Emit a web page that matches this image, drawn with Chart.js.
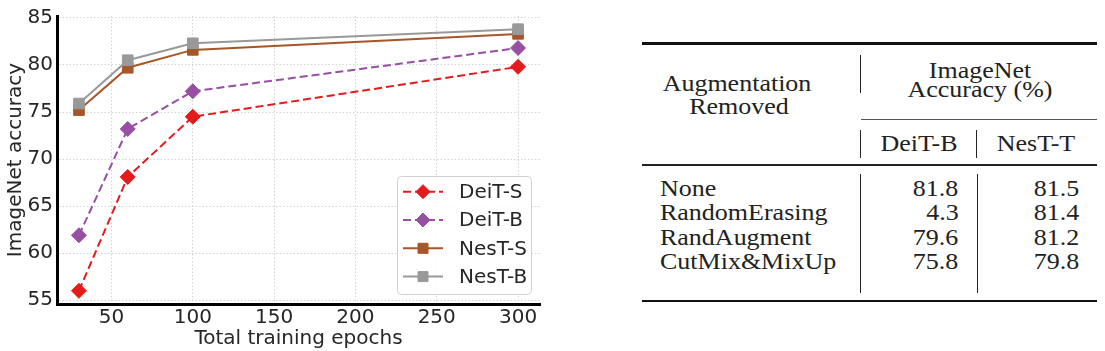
<!DOCTYPE html>
<html>
<head>
<meta charset="utf-8">
<script src="https://cdn.jsdelivr.net/npm/chart.js@4/dist/chart.umd.min.js"></script>
<style>
  html, body { margin: 0; padding: 0; background: #fff; }
  #wrap { position: relative; width: 1105px; height: 351px; overflow: hidden; background: #fff; }
  #chartBox { position: absolute; left: 0; top: 0; width: 560px; height: 351px; }
  .t { position: absolute; font-family: "Liberation Serif", "Times New Roman", serif; font-size: 23px; line-height: 1; color: #222; white-space: nowrap; }
  .c { transform: translate(-50%, -50%) scaleX(1.13); }
  .l { transform-origin: left center; transform: translateY(-50%) scaleX(1.13); }
  .r { transform-origin: right center; transform: translateY(-50%) scaleX(1.13); }
  .rule { position: absolute; background: #111; }
</style>
</head>
<body>
<div id="wrap">
  <div id="chartBox"><canvas id="c" width="560" height="351"></canvas></div>
  <div id="table"></div>
</div>
<script>
// ---- chart data ----
const epochs = [30, 60, 100, 300];
const deitS = [56.0, 68.1, 74.5, 79.8];
const deitB = [61.9, 73.2, 77.2, 81.8];
const nestS = [75.2, 79.7, 81.6, 83.3];
const nestB = [75.9, 80.5, 82.3, 83.8];
const seriesNames = ['DeiT-S', 'DeiT-B', 'NesT-S', 'NesT-B'];
const xTicks = [50, 100, 150, 200, 250, 300];
const yTicks = [55, 60, 65, 70, 75, 80, 85];
const xTitle = 'Total training epochs';
const yTitle = 'ImageNet accuracy';

// ---- table data ----
const augmentations = ['None', 'RandomErasing', 'RandAugment', 'CutMix&MixUp'];
const deitBAcc = ['81.8', '4.3', '79.6', '75.8'];
const nestTAcc = ['81.5', '81.4', '81.2', '79.8'];
const tableHead = ['Augmentation', 'Removed', 'ImageNet', 'Accuracy (%)', 'DeiT-B', 'NesT-T'];

const colors = ['#e41a1c', '#984ea3', '#a65628', '#999999'];
const styles = ['diamond', 'diamond', 'square', 'square'];
const dashed = [true, true, false, false];
const allSeries = [deitS, deitB, nestS, nestB];
const FONT = 'DejaVu Sans';
const FS = 20;

const datasets = allSeries.map((vals, i) => ({
  label: seriesNames[i],
  data: epochs.map((e, j) => ({ x: e, y: vals[j] })),
  borderColor: colors[i],
  backgroundColor: colors[i],
  borderWidth: 2,
  borderDash: dashed[i] ? [8, 4] : [],
  pointStyle: styles[i] === 'diamond' ? 'rectRot' : 'rect',
  pointRadius: 7.5,
  pointBorderWidth: 1,
  tension: 0,
  order: 4 - i
}));

function drawMarker(ctx, style, x, y, color) {
  ctx.save();
  ctx.fillStyle = color; ctx.strokeStyle = color; ctx.lineWidth = 1;
  ctx.beginPath();
  if (style === 'diamond') {
    const r = 7;
    ctx.moveTo(x - r, y); ctx.lineTo(x, y - r); ctx.lineTo(x + r, y); ctx.lineTo(x, y + r);
    ctx.closePath();
  } else {
    const h = 5;
    ctx.rect(x - h, y - h, 2 * h, 2 * h);
  }
  ctx.fill(); ctx.stroke();
  ctx.restore();
}

const legendPlugin = {
  id: 'boxLegend',
  afterDraw(chart) {
    const ctx = chart.ctx;
    const bx = 397, by = 176, bw = 134, bh = 118, rad = 4;
    ctx.save();
    ctx.beginPath();
    ctx.roundRect(bx + 0.5, by + 0.5, bw, bh, rad);
    ctx.fillStyle = 'rgba(255,255,255,0.85)';
    ctx.fill();
    ctx.strokeStyle = '#d0d0d0';
    ctx.lineWidth = 1;
    ctx.stroke();
    chart.data.datasets.forEach((ds, i) => {
      const y = 191.7 + i * 28.3;
      ctx.save();
      ctx.strokeStyle = ds.borderColor;
      ctx.lineWidth = 2;
      ctx.setLineDash(ds.borderDash || []);
      ctx.beginPath();
      ctx.moveTo(403, y); ctx.lineTo(443, y);
      ctx.stroke();
      ctx.restore();
      drawMarker(ctx, styles[i], 423, y, ds.borderColor);
      ctx.fillStyle = '#262626';
      ctx.font = FS + 'px "' + FONT + '"';
      ctx.textBaseline = 'middle';
      ctx.textAlign = 'left';
      ctx.fillText(ds.label, 459, y + 1);
    });
    ctx.restore();
  }
};

new Chart(document.getElementById('c'), {
  type: 'line',
  data: { datasets },
  options: {
    responsive: false,
    animation: false,
    devicePixelRatio: 1,
    layout: { padding: { left: 0, top: 15, right: 20, bottom: 0 } },
    plugins: { legend: { display: false }, tooltip: { enabled: false } },
    scales: {
      x: {
        type: 'linear',
        min: 16.5, max: 313.5,
        afterBuildTicks: s => { s.ticks = xTicks.map(v => ({ value: v })); },
        afterFit: s => { s.height = 47; },
        grid: { color: '#d4d4d4', lineWidth: 1, drawTicks: false },
        border: { display: true, color: '#000', width: 3, dash: [1.5, 2] },
        ticks: { color: '#262626', font: { family: FONT, size: FS }, padding: 2, maxRotation: 0 },
        title: { display: true, text: xTitle, color: '#262626', font: { family: FONT, size: FS }, padding: { top: 0, bottom: 0 } }
      },
      y: {
        type: 'linear',
        min: 54.6, max: 85.2,
        afterBuildTicks: s => { s.ticks = yTicks.map(v => ({ value: v })); },
        afterFit: s => { s.width = 57; },
        grid: { color: '#d4d4d4', lineWidth: 1, drawTicks: false },
        border: { display: true, color: '#000', width: 3, dash: [1.5, 2] },
        ticks: { color: '#262626', font: { family: FONT, size: FS }, padding: 4 },
        title: { display: true, text: yTitle, color: '#262626', font: { family: FONT, size: FS }, padding: { top: 4, bottom: 0 } }
      }
    }
  },
  plugins: [legendPlugin]
});

// ---- table ----
const tbl = document.getElementById('table');
function txt(s, cls, x, y) {
  const d = document.createElement('div');
  d.className = 't ' + cls;
  d.textContent = s;
  if (cls === 'r') { d.style.right = (1105 - x) + 'px'; } else { d.style.left = x + 'px'; }
  d.style.top = y + 'px';
  tbl.appendChild(d);
}
function rule(x, y, w, h, color) {
  const d = document.createElement('div');
  d.className = 'rule';
  d.style.left = x + 'px'; d.style.top = y + 'px';
  d.style.width = w + 'px'; d.style.height = h + 'px';
  if (color) d.style.background = color;
  tbl.appendChild(d);
}
rule(641.7, 42.3, 455, 2.6);
rule(860.7, 118.6, 236, 1.4, '#555');
rule(641.7, 163.8, 455, 2.2, '#222');
rule(641.7, 299.6, 455, 2.6);
rule(860.2, 55, 1.1, 38.3, '#222');
rule(860.2, 130, 1.1, 28, '#222');
rule(976.2, 130, 1.1, 28, '#222');
rule(860.2, 174, 1.1, 119.3, '#222');
rule(976.8, 174, 1.1, 119.3, '#222');

txt(tableHead[0], 'c', 737, 82.5);
txt(tableHead[1], 'c', 739, 105.8);
txt(tableHead[2], 'c', 980, 69.5);
txt(tableHead[3], 'c', 980, 89.2);
txt(tableHead[4], 'c', 919, 143);
txt(tableHead[5], 'c', 1036, 143);
const rowY = [187.5, 212.1, 236.7, 261.3];
augmentations.forEach((a, i) => {
  txt(a, 'l', 660, rowY[i]);
  txt(deitBAcc[i], 'r', 958.3, rowY[i]);
  txt(nestTAcc[i], 'r', 1079.3, rowY[i]);
});
</script>
</body>
</html>
